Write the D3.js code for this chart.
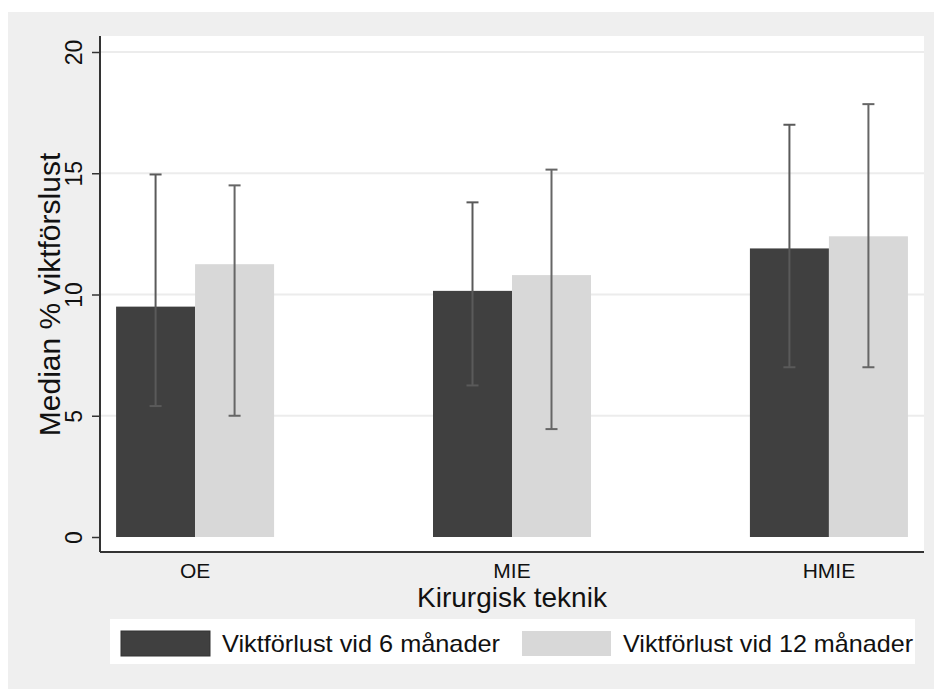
<!DOCTYPE html>
<html>
<head>
<meta charset="utf-8">
<script src="https://cdn.jsdelivr.net/npm/d3@7"></script>
<style>
  body { margin: 0; background: #fff; }
  text { font-family: "Liberation Sans", Arial, sans-serif; fill: #111; }
</style>
</head>
<body>
<div id="chart"></div>
<script>
var categories = ["OE", "MIE", "HMIE"];
var seriesNames = ["Viktförlust vid 6 månader", "Viktförlust vid 12 månader"];
var median6 = [9.5, 10.15, 11.9];
var median12 = [11.25, 10.8, 12.4];
var low6 = [5.4, 6.25, 7.0];
var high6 = [14.95, 13.8, 17.0];
var low12 = [5.0, 4.45, 7.0];
var high12 = [14.5, 15.15, 17.85];
var yTicks = [0, 5, 10, 15, 20];
var colors = ["#404040", "#d8d8d8"];

var svgWidth = 934;
var svgHeight = 689;

var plot = { left: 100, right: 924, top: 36, bottom: 552 };

var svg = d3.select("#chart")
  .append("svg")
  .attr("width", svgWidth)
  .attr("height", svgHeight);

// outer grey frame
svg.append("rect")
  .attr("x", 8).attr("y", 12)
  .attr("width", svgWidth - 8).attr("height", svgHeight - 12)
  .attr("fill", "#efefef");

// plot area
svg.append("rect")
  .attr("x", plot.left).attr("y", plot.top)
  .attr("width", plot.right - plot.left).attr("height", plot.bottom - plot.top)
  .attr("fill", "#fff");

var x0 = d3.scalePoint()
  .domain(categories)
  .range([plot.left, plot.right])
  .padding(0.3);

var barWidth = 79;
var x1 = d3.scaleBand()
  .domain(seriesNames)
  .range([-barWidth, barWidth]);

var y = d3.scaleLinear()
  .domain([0, 20])
  .range([537, 52]);

// gridlines
svg.append("g")
  .selectAll("line")
  .data(yTicks.slice(1))
  .enter()
  .append("line")
  .attr("x1", plot.left).attr("x2", plot.right)
  .attr("y1", d => y(d)).attr("y2", d => y(d))
  .attr("stroke", "#ececec")
  .attr("stroke-width", 2);

var rows = categories.map((c, i) => ({
  cat: c,
  values: [
    { s: seriesNames[0], v: median6[i], lo: low6[i], hi: high6[i], k: 0 },
    { s: seriesNames[1], v: median12[i], lo: low12[i], hi: high12[i], k: 1 }
  ]
}));

var groups = svg.append("g")
  .selectAll("g")
  .data(rows)
  .enter()
  .append("g")
  .attr("transform", d => `translate(${x0(d.cat)},0)`);

groups.selectAll("rect")
  .data(d => d.values)
  .enter()
  .append("rect")
  .attr("x", d => x1(d.s))
  .attr("y", d => y(d.v))
  .attr("width", x1.bandwidth())
  .attr("height", d => y(0) - y(d.v))
  .attr("fill", d => colors[d.k]);

// error bars
var err = groups.selectAll(".err")
  .data(d => d.values)
  .enter()
  .append("g")
  .attr("class", "err")
  .attr("stroke", d => d.k === 0 ? "#5a5a5a" : "#666")
  .attr("stroke-width", 2);

var cap = 6;
err.append("line")
  .attr("x1", d => x1(d.s) + x1.bandwidth() / 2)
  .attr("x2", d => x1(d.s) + x1.bandwidth() / 2)
  .attr("y1", d => y(d.lo)).attr("y2", d => y(d.hi));
err.append("line")
  .attr("x1", d => x1(d.s) + x1.bandwidth() / 2 - cap)
  .attr("x2", d => x1(d.s) + x1.bandwidth() / 2 + cap)
  .attr("y1", d => y(d.hi)).attr("y2", d => y(d.hi));
err.append("line")
  .attr("x1", d => x1(d.s) + x1.bandwidth() / 2 - cap)
  .attr("x2", d => x1(d.s) + x1.bandwidth() / 2 + cap)
  .attr("y1", d => y(d.lo)).attr("y2", d => y(d.lo));

// y axis
var leftAxis = d3.axisLeft(y).tickValues(yTicks).tickSize(8).tickPadding(10);
var yAxis = svg.append("g")
  .attr("transform", `translate(${plot.left},0)`)
  .call(leftAxis);
yAxis.select(".domain").remove();
yAxis.selectAll(".tick line").attr("stroke", "#333").attr("stroke-width", 1.5);
yAxis.selectAll(".tick text")
  .attr("font-size", 23)
  .attr("fill", "#111")
  .attr("transform", "rotate(-90)")
  .attr("x", 0)
  .attr("y", -18)
  .attr("dy", "0")
  .style("text-anchor", "middle");

// axis lines
svg.append("line")
  .attr("x1", plot.left).attr("x2", plot.left)
  .attr("y1", plot.top).attr("y2", plot.bottom)
  .attr("stroke", "#333").attr("stroke-width", 2);
svg.append("line")
  .attr("x1", plot.left).attr("x2", plot.right)
  .attr("y1", plot.bottom).attr("y2", plot.bottom)
  .attr("stroke", "#333").attr("stroke-width", 2);

// category labels
svg.append("g")
  .selectAll("text")
  .data(categories)
  .enter()
  .append("text")
  .attr("x", d => x0(d))
  .attr("y", 578)
  .attr("text-anchor", "middle")
  .attr("font-size", 21)
  .text(d => d);

// axis titles
svg.append("text")
  .attr("transform", `translate(60, ${(52 + 537) / 2}) rotate(-90)`)
  .attr("text-anchor", "middle")
  .attr("font-size", 30)
  .text("Median % viktförslust");

svg.append("text")
  .attr("x", (plot.left + plot.right) / 2)
  .attr("y", 607)
  .attr("text-anchor", "middle")
  .attr("font-size", 28)
  .text("Kirurgisk teknik");

// legend
var legend = svg.append("g");
legend.append("rect")
  .attr("x", 110).attr("y", 619)
  .attr("width", 805).attr("height", 45)
  .attr("fill", "#fff");

var legendX = [121, 522];
var items = legend.selectAll(".item")
  .data(seriesNames)
  .enter()
  .append("g")
  .attr("class", "item")
  .attr("transform", (d, i) => `translate(${legendX[i]},631)`);
items.append("rect")
  .attr("width", 89).attr("height", 25)
  .attr("fill", (d, i) => colors[i])
  .attr("stroke", (d, i) => i === 0 ? "#333" : "none");
items.append("text")
  .attr("x", 101)
  .attr("y", 21)
  .attr("font-size", 24)
  .attr("textLength", (d, i) => i === 0 ? 278 : 290)
  .attr("lengthAdjust", "spacingAndGlyphs")
  .text(d => d);
</script>
</body>
</html>
